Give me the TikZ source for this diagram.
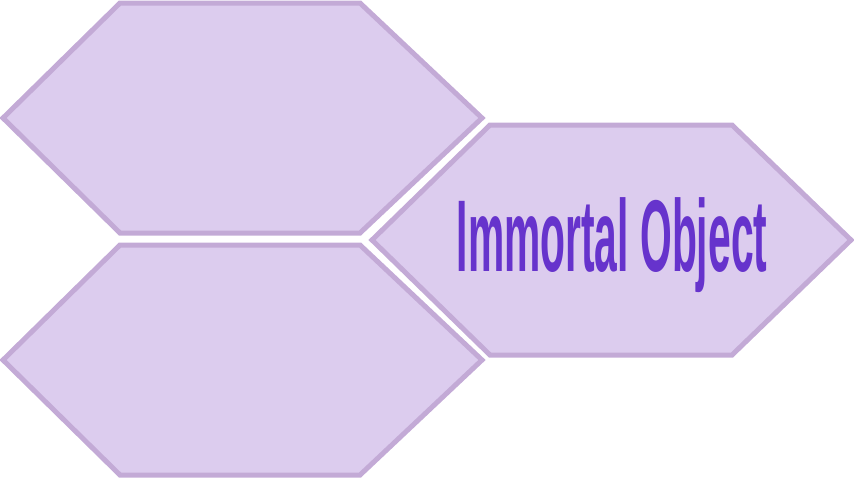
\documentclass[tikz,border=0pt]{standalone}
\usepackage{fontspec}
\usepackage{graphicx}
\newfontfamily\titlefont{Liberation Sans}
\definecolor{cellfill}{RGB}{220, 204, 238}
\definecolor{cellborder}{RGB}{195, 170, 214}
\definecolor{titlepurple}{RGB}{102, 51, 204}

\begin{document}
\begin{tikzpicture}[
        x=1pt, y=-1pt,
        cell/.style={draw=cellborder, fill=cellfill, line width=5pt, line join=miter},
        titletext/.style={font=\titlefont\bfseries\fontsize{102}{102}\selectfont, text=titlepurple, inner sep=0pt}
    ]
        \useasboundingbox (0,0) rectangle (854,479);

        % Left cells
        \draw[cell] (3,118) -- ++(117,-115) -- ++(240,0) -- ++(122,115) -- ++(-122,115) -- ++(-240,0) -- cycle;
        \draw[cell] (3,360) -- ++(117,-115) -- ++(240,0) -- ++(122,115) -- ++(-122,115) -- ++(-240,0) -- cycle;

        % Right cell
        \draw[cell] (372,240) -- ++(118,-115) -- ++(242,0) -- ++(119,115) -- ++(-119,115) -- ++(-242,0) -- cycle;

        % Title
        \node[titletext, anchor=base] (title) at (612,271) {\scalebox{0.40}[1]{Immortal Object}};
    \end{tikzpicture}
\end{document}
